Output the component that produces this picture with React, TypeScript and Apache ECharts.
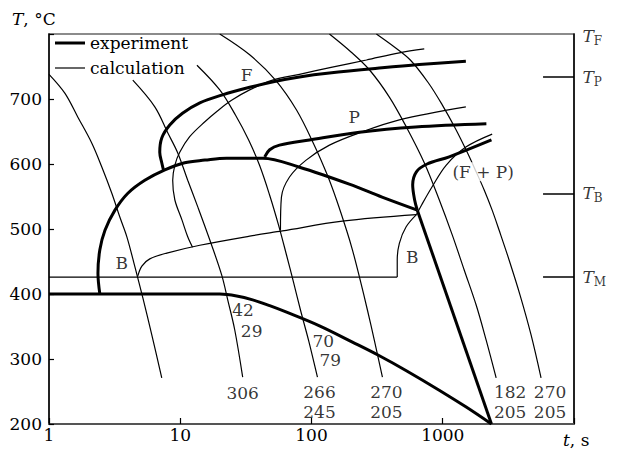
import { useEffect, useRef } from "react";
import * as echarts from "echarts";

type P = [number, number];

// ---- calculated cooling curves (thin) : [time s, temperature °C]
const cool1: P[] = [[1, 738], [1.32, 709], [1.66, 672], [2.12, 632], [2.53, 595], [3.01, 555], [3.47, 518], [3.92, 488], [4.51, 442], [5.19, 394], [6.07, 337], [7.23, 271]];
const cool2: P[] = [[4.35, 729], [6.4, 688], [8.03, 648], [9.57, 617], [11.4, 575], [13.6, 534], [16.8, 483], [20.7, 429], [23.0, 391], [26.0, 345], [29.9, 272]];
const cool3: P[] = [[13.4, 752], [20.0, 714], [26.4, 675], [33.2, 637], [40.2, 598], [48.0, 552], [56.1, 506], [64.5, 460], [73.0, 418], [82.5, 375], [94.9, 329], [111, 272]];
const cool4: P[] = [[20, 800], [33.8, 768], [53.2, 729], [76.9, 683], [105, 629], [132, 583], [155, 545], [185, 498], [205, 468], [232, 426], [267, 375], [301, 329], [347, 272]];
const cool5: P[] = [[137, 800], [201, 772], [276, 745], [392, 703], [528, 657], [723, 602], [940, 545], [1181, 491], [1457, 437], [1797, 383], [2142, 329], [2552, 271]];
const cool6: P[] = [[312, 800], [428, 780], [566, 760], [776, 725], [991, 691], [1245, 655], [1536, 618], [1797, 588], [2069, 560], [2379, 529], [2690, 498], [3207, 452], [3886, 398], [4710, 337], [5610, 271]];

// ---- experimental transformation curves (thick)
const expF: P[] = [[1500, 758], [662, 753], [345, 748], [137, 740], [81, 734], [52.3, 727], [33.8, 718], [20.7, 706], [14.1, 694], [10.4, 678], [8.32, 660], [7.23, 640], [6.98, 618], [7.23, 602], [7.49, 589]];
const expBP: P[] = [[2.44, 400], [2.36, 432], [2.44, 468], [2.67, 498], [3.18, 529], [3.99, 555], [5.37, 575], [7.63, 591], [10.8, 602], [15.4, 606], [22.5, 609], [42.5, 609], [81, 595], [194, 569], [345, 549], [640, 529]];
const expP: P[] = [[2150, 662], [620, 657], [232, 649], [96.5, 637], [57, 629], [48, 622], [44, 611]];
const expFP: P[] = [[2350, 637], [1120, 611], [760, 600], [630, 588], [590, 568], [610, 545], [640, 529]];
const expM: P[] = [[1, 400], [20, 400], [26.9, 397], [35.6, 391], [48.0, 382], [64.6, 372], [115, 351], [205, 326], [329, 305], [528, 282], [940, 252], [1509, 226], [2350, 200]];
const expEnd: P[] = [[640, 529], [2350, 200]];

// ---- calculated transformation curves (thin)
const calF: P[] = [[723, 777], [467, 771], [262, 760], [144, 749], [81, 738], [50.5, 729], [33.8, 714], [24.6, 698], [19.3, 682], [15.4, 665], [11.8, 642], [9.91, 618], [9.09, 598], [8.76, 575], [9.09, 545], [10.3, 514], [11.4, 488], [12.4, 472]];
const calP: P[] = [[1500, 688], [467, 668], [232, 648], [137, 629], [91, 606], [68, 580], [59, 549], [58, 498]];
const calFP: P[] = [[2380, 646], [1500, 626], [1060, 598], [830, 565], [690, 537], [630, 522]];
const calB: P[] = [[4.75, 428], [5.1, 443], [5.86, 454], [7.9, 463], [14.1, 475], [33.8, 489], [60, 497], [172, 512], [630, 522]];
const calBend: P[] = [[630, 522], [525, 503], [467, 478], [450, 452], [450, 426]];
const calM: P[] = [[1, 426], [450, 426]];

// ---- text labels
const regionLabels: [number, number, string][] = [
  [32, 737, "F"], [212, 672, "P"], [3.59, 448, "B"], [586, 457, "B"],
];
const mixLabel: [number, number, string][] = [[2032, 588, "(F + P)"]];
const hardnessLabels: [number, number, string][] = [
  [30.1, 375, "42"], [35, 343, "29"], [123, 328, "70"], [139, 298, "79"],
  [29.9, 248, "306"], [115, 249, "266"], [115, 218, "245"], [372, 249, "270"], [372, 218, "205"],
  [3260, 249, "182"], [3260, 218, "205"], [6570, 249, "270"], [6570, 218, "205"],
];
// right-hand critical temperatures
const critNames = ["F", "P", "B", "M"];
const critTemps = [797, 734, 555, 426];
const critTicked = [false, true, true, true];

const legendNames = ["experiment", "calculation"];
const xTicks = [1, 10, 100, 1000];
const yTicks = [200, 300, 400, 500, 600, 700];

export default function App() {
  const ref = useRef<HTMLDivElement>(null);
  useEffect(() => {
    document.body.style.margin = "0";
    const chart = echarts.init(ref.current!, undefined, { renderer: "svg" });
    const font = "DejaVu Serif";
    const SM = 0.35;
    const thick = (data: P[], smooth: number | boolean = SM) => ({
      type: "line", name: legendNames[0], data, symbol: "none", showSymbol: false, smooth,
      lineStyle: { color: "#000", width: 3 }, itemStyle: { color: "#000" }, silent: true, z: 3,
    });
    const thin = (data: P[], smooth: number | boolean = SM) => ({
      type: "line", name: legendNames[1], data, symbol: "none", showSymbol: false, smooth,
      lineStyle: { color: "#000", width: 1.2 }, itemStyle: { color: "#000" }, silent: true, z: 2,
    });
    const tickStart = 5810;
    const textSeries = (items: [number, number, string][], bg?: string) => ({
      type: "scatter", data: items.map(([t, T, s]) => ({ value: [t, T], name: s })),
      symbolSize: 1, itemStyle: { color: "rgba(0,0,0,0)" }, silent: true, z: 5,
      label: {
        show: true, position: "inside", formatter: "{b}", color: "#000", fontSize: 17, fontFamily: font,
        backgroundColor: bg, padding: bg ? [1, 2] : 0,
      },
    });
    const legendGraphic = legendNames.flatMap((name, i) => {
      const y = 43 + i * 25;
      return [
        { type: "line", shape: { x1: 55, y1: y, x2: 85, y2: y }, style: { stroke: "#000", lineWidth: i === 0 ? 3 : 1.2 }, z: 10 },
        { type: "text", x: 90, y, style: { text: name, fill: "#000", fontSize: 17, fontFamily: font, verticalAlign: "middle", align: "left" }, z: 10 },
      ];
    });
    const option: any = {
      animation: false,
      backgroundColor: "#fff",
      grid: { left: 49, right: 43, top: 34, bottom: 28, show: true, borderColor: "#666", borderWidth: 1.5 },
      xAxis: {
        type: "log", logBase: 10, min: 1, max: 10000,
        axisLine: { onZero: false, lineStyle: { color: "#555", width: 2 } },
        axisTick: { inside: true, length: 6, lineStyle: { color: "#000", width: 1.2 } },
        axisLabel: {
          color: "#000", fontSize: 17, fontFamily: font, margin: 2,
          formatter: (v: number) => (xTicks.includes(v) ? String(v) : ""),
        },
        splitLine: { show: false }, minorTick: { show: false },
      },
      yAxis: [
        {
          type: "value", min: 200, max: 800, interval: 100,
          axisLine: { show: true, lineStyle: { color: "#000", width: 1.5 } },
          axisTick: { show: true, inside: true, length: 5, lineStyle: { color: "#000", width: 1.2 } },
          axisLabel: {
            color: "#000", fontSize: 17, fontFamily: font, margin: 7,
            formatter: (v: number) => (yTicks.includes(v) ? String(v) : ""),
          },
          splitLine: { show: false },
        },
        {
          type: "value", position: "right", min: 200, max: 800,
          axisLine: { show: true, lineStyle: { color: "#000", width: 1.5 } },
          axisTick: { show: false }, axisLabel: { show: false }, splitLine: { show: false },
        },
      ],
      graphic: [
        {
          type: "text", left: 12, top: 10,
          style: { text: "{i|T}, °C", rich: { i: { fontStyle: "italic", fontSize: 17, fontFamily: font } }, fontSize: 17, fontFamily: font, fill: "#000" },
        },
        {
          type: "text", left: 563, top: 431,
          style: { text: "{i|t}, s", rich: { i: { fontStyle: "italic", fontSize: 17, fontFamily: font } }, fontSize: 17, fontFamily: font, fill: "#000" },
        },
        ...legendGraphic,
      ],
      series: [
        thin(cool1), thin(cool2), thin(cool3), thin(cool4), thin(cool5), thin(cool6),
        thin(calF), thin(calP), thin(calFP), thin(calB), thin(calBend), thin(calM, false),
        thick(expF), thick(expBP), thick(expP), thick(expFP), thick(expM), thick(expEnd, false),
        textSeries(regionLabels),
        textSeries(mixLabel, "#fff"),
        textSeries(hardnessLabels),
        {
          type: "scatter", silent: true, z: 5, symbolSize: 1, itemStyle: { color: "rgba(0,0,0,0)" },
          data: critNames.map((n, i) => ({ value: [10000, critTemps[i]], name: n })),
          label: {
            show: true, position: "right", distance: 8, formatter: "{t|T}{s|{b}}",
            rich: {
              t: { fontStyle: "italic", fontSize: 17, fontFamily: font, color: "#000" },
              s: { fontSize: 12, fontFamily: font, color: "#000", padding: [10, 0, 0, 0] },
            },
          },
          markLine: {
            silent: true, symbol: "none", label: { show: false },
            lineStyle: { color: "#000", width: 1.5, type: "solid" },
            data: critTemps.filter((_, i) => critTicked[i]).map((T) => [{ coord: [tickStart, T] }, { coord: [10000, T] }]),
          },
        },
      ],
    };
    chart.setOption(option);
    return () => chart.dispose();
  }, []);
  return <div ref={ref} style={{ position: "fixed", left: 0, top: 0, width: 617, height: 452 }} />;
}
